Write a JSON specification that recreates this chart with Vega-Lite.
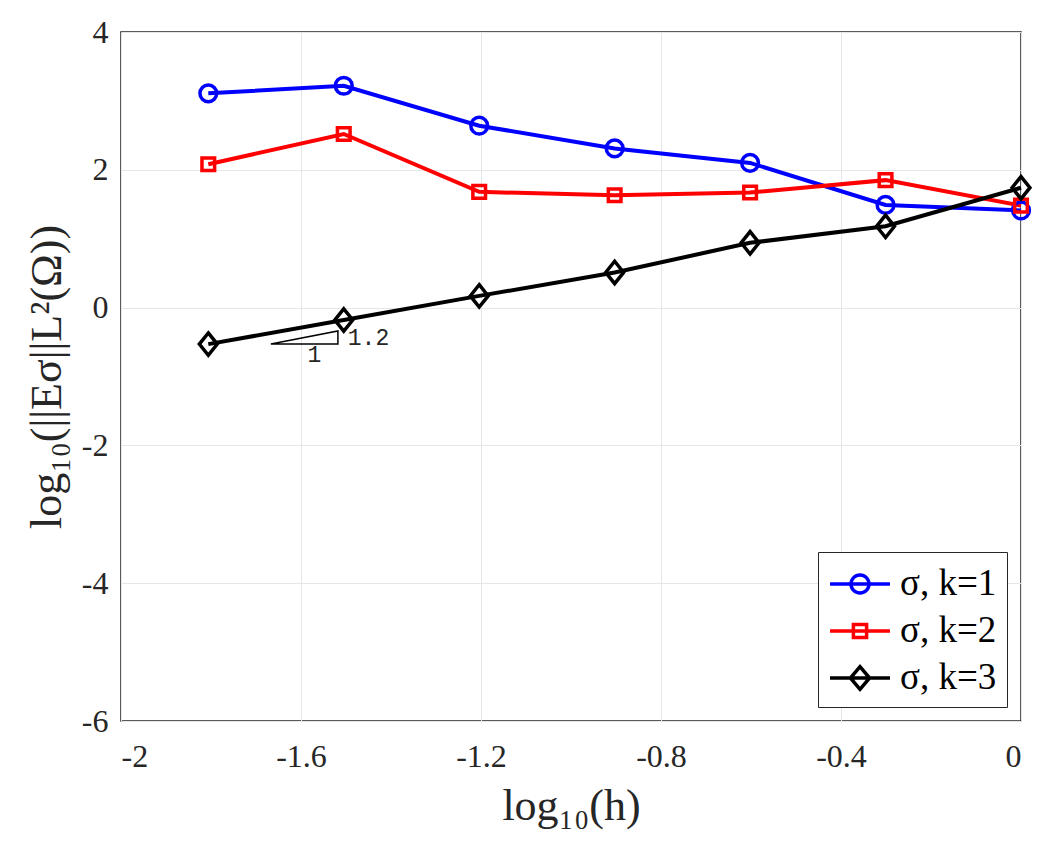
{
  "$schema": "https://vega.github.io/schema/vega-lite/v6.json",
  "width": 900,
  "height": 689,
  "autosize": "none",
  "padding": {"left": 121, "top": 32, "right": 29, "bottom": 134},
  "background": "white",
  "config": {
    "font": "Liberation Serif",
    "view": {"stroke": "#262626", "strokeWidth": 1.5},
    "axis": {
      "grid": true,
      "gridColor": "#e6e6e6",
      "gridWidth": 1,
      "domain": false,
      "ticks": false,
      "labelFont": "Liberation Serif",
      "labelFontSize": 32,
      "labelColor": "#262626",
      "titleFont": "Liberation Serif",
      "titleFontSize": 44,
      "titleFontWeight": "normal",
      "titleColor": "#262626"
    },
    "legend": {
      "strokeColor": "#262626",
      "fillColor": "white",
      "padding": 10,
      "labelFont": "Liberation Serif",
      "labelFontSize": 37,
      "labelColor": "#000000",
      "symbolStrokeWidth": 3.5,
      "symbolSize": 1600,
      "labelOffset": 28,
      "rowPadding": 7
    }
  },
  "datasets": {
    "err": [
      {"h": -1.806, "e": 3.11, "s": "σ, k=1"},
      {"h": -1.505, "e": 3.22, "s": "σ, k=1"},
      {"h": -1.204, "e": 2.64, "s": "σ, k=1"},
      {"h": -0.903, "e": 2.31, "s": "σ, k=1"},
      {"h": -0.602, "e": 2.10, "s": "σ, k=1"},
      {"h": -0.301, "e": 1.49, "s": "σ, k=1"},
      {"h": 0.0, "e": 1.41, "s": "σ, k=1"},
      {"h": -1.806, "e": 2.08, "s": "σ, k=2"},
      {"h": -1.505, "e": 2.52, "s": "σ, k=2"},
      {"h": -1.204, "e": 1.68, "s": "σ, k=2"},
      {"h": -0.903, "e": 1.63, "s": "σ, k=2"},
      {"h": -0.602, "e": 1.67, "s": "σ, k=2"},
      {"h": -0.301, "e": 1.85, "s": "σ, k=2"},
      {"h": 0.0, "e": 1.48, "s": "σ, k=2"},
      {"h": -1.806, "e": -0.53, "s": "σ, k=3"},
      {"h": -1.505, "e": -0.18, "s": "σ, k=3"},
      {"h": -1.204, "e": 0.17, "s": "σ, k=3"},
      {"h": -0.903, "e": 0.51, "s": "σ, k=3"},
      {"h": -0.602, "e": 0.94, "s": "σ, k=3"},
      {"h": -0.301, "e": 1.18, "s": "σ, k=3"},
      {"h": 0.0, "e": 1.74, "s": "σ, k=3"}
    ],
    "tri": [
      {"h": -1.667, "e": -0.528, "o": 0},
      {"h": -1.518, "e": -0.528, "o": 1},
      {"h": -1.518, "e": -0.34, "o": 2},
      {"h": -1.667, "e": -0.528, "o": 3}
    ],
    "lab1": [{"h": -1.57, "e": -0.69, "t": "1"}],
    "lab2": [{"h": -1.496, "e": -0.44, "t": "1.2"}]
  },
  "layer": [
    {
      "data": {"name": "err"},
      "mark": {"type": "line", "strokeWidth": 4},
      "encoding": {
        "x": {
          "field": "h", "type": "quantitative",
          "scale": {"domain": [-2, 0], "nice": false, "zero": false},
          "axis": {
            "values": [-2, -1.6, -1.2, -0.8, -0.4, 0],
            "labelExpr": "replace(format(datum.value, '~g'), '\u2212', '-')",
            "labelPadding": 20,
            "title": "log₁₀(h)",
            "titlePadding": 12
          }
        },
        "y": {
          "field": "e", "type": "quantitative",
          "scale": {"domain": [-6, 4], "nice": false, "zero": false},
          "axis": {
            "values": [-6, -4, -2, 0, 2, 4],
            "labelExpr": "replace(format(datum.value, '~g'), '\u2212', '-')",
            "labelPadding": 13,
            "title": "log₁₀(||Eσ||L²(Ω))",
            "titlePadding": 12
          }
        },
        "color": {
          "field": "s", "type": "nominal",
          "scale": {"domain": ["σ, k=1", "σ, k=2", "σ, k=3"], "range": ["#0000ff", "#ff0000", "#000000"]},
          "legend": {
            "title": null,
            "orient": "bottom-right",
            "offset": 14,
            "encode": {
              "symbols": {
                "update": {
                  "shape": {"signal": "datum.value === 'σ, k=1' ? 'M-1,0H2M0.05,0A0.45,0.45 0 1,0 0.95,0A0.45,0.45 0 1,0 0.05,0' : datum.value === 'σ, k=2' ? 'M-1,0H2M0.17,-0.33H0.83V0.33H0.17Z' : 'M-1,0H2M0.5,-0.57L0.98,0L0.5,0.57L0.02,0Z'"},
                  "fill": {"value": "transparent"},
                  "strokeWidth": {"value": 3.5}
                }
              }
            }
          }
        }
      }
    },
    {
      "data": {"name": "err"},
      "transform": [{"filter": "datum.s === 'σ, k=1'"}],
      "mark": {"type": "point", "shape": "circle", "filled": false, "size": 280, "strokeWidth": 3.5, "stroke": "#0000ff", "opacity": 1},
      "encoding": {
        "x": {"field": "h", "type": "quantitative"},
        "y": {"field": "e", "type": "quantitative"}
      }
    },
    {
      "data": {"name": "err"},
      "transform": [{"filter": "datum.s === 'σ, k=2'"}],
      "mark": {"type": "point", "shape": "square", "filled": false, "size": 160, "strokeWidth": 3.5, "stroke": "#ff0000", "opacity": 1},
      "encoding": {
        "x": {"field": "h", "type": "quantitative"},
        "y": {"field": "e", "type": "quantitative"}
      }
    },
    {
      "data": {"name": "err"},
      "transform": [{"filter": "datum.s === 'σ, k=3'"}],
      "mark": {"type": "point", "shape": "M0,-1L0.8,0L0,1L-0.8,0Z", "filled": false, "size": 500, "strokeWidth": 3.5, "stroke": "#000000", "opacity": 1},
      "encoding": {
        "x": {"field": "h", "type": "quantitative"},
        "y": {"field": "e", "type": "quantitative"}
      }
    },
    {
      "data": {"name": "tri"},
      "mark": {"type": "line", "stroke": "#000000", "strokeWidth": 1.5},
      "encoding": {
        "x": {"field": "h", "type": "quantitative"},
        "y": {"field": "e", "type": "quantitative"},
        "order": {"field": "o", "type": "quantitative"}
      }
    },
    {
      "data": {"name": "lab1"},
      "mark": {"type": "text", "font": "Liberation Mono", "fontSize": 23, "color": "#262626", "baseline": "middle", "align": "center"},
      "encoding": {
        "x": {"field": "h", "type": "quantitative"},
        "y": {"field": "e", "type": "quantitative"},
        "text": {"field": "t"}
      }
    },
    {
      "data": {"name": "lab2"},
      "mark": {"type": "text", "font": "Liberation Mono", "fontSize": 23, "color": "#262626", "baseline": "middle", "align": "left"},
      "encoding": {
        "x": {"field": "h", "type": "quantitative"},
        "y": {"field": "e", "type": "quantitative"},
        "text": {"field": "t"}
      }
    }
  ]
}
